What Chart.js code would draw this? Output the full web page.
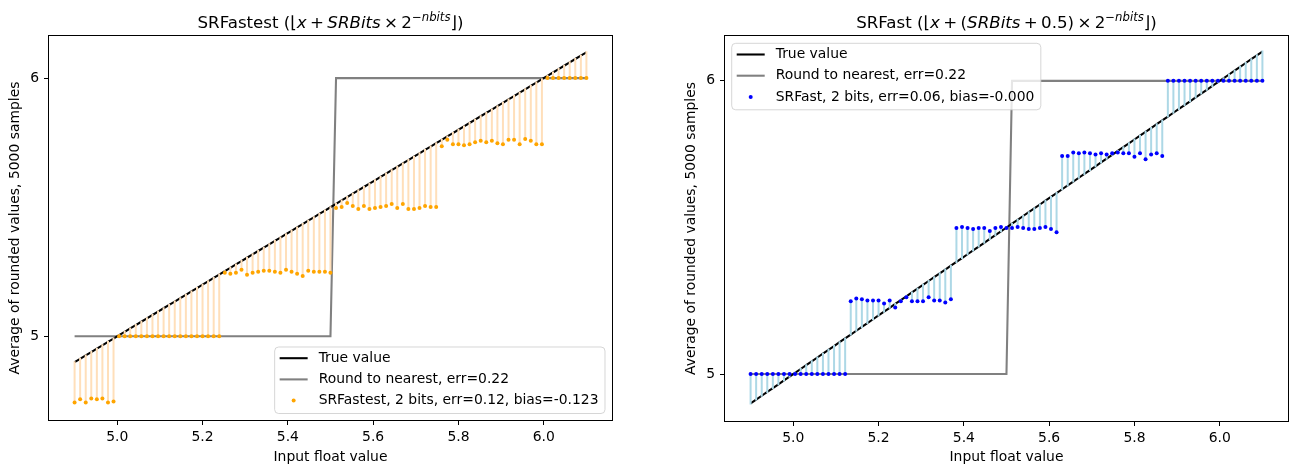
<!DOCTYPE html>
<html><head><meta charset="utf-8">
<script src="https://cdn.jsdelivr.net/npm/chart.js@4.4.1/dist/chart.umd.min.js"></script>
<style>
html,body{margin:0;padding:0;background:#fff;width:1298px;height:474px;overflow:hidden;}
#c1{position:absolute;left:0;top:0;}
#c2{position:absolute;left:676px;top:0;}
</style></head><body>
<canvas id="c1" width="649" height="474"></canvas>
<canvas id="c2" width="622" height="474"></canvas>
<script>
// ---------- DATA ----------
const inputValues = [
 4.9000,4.9130,4.9261,4.9391,4.9522,4.9652,4.9783,4.9913,5.0043,5.0174,
 5.0304,5.0435,5.0565,5.0696,5.0826,5.0957,5.1087,5.1217,5.1348,5.1478,
 5.1609,5.1739,5.1870,5.2000,5.2130,5.2261,5.2391,5.2522,5.2652,5.2783,
 5.2913,5.3043,5.3174,5.3304,5.3435,5.3565,5.3696,5.3826,5.3957,5.4087,
 5.4217,5.4348,5.4478,5.4609,5.4739,5.4870,5.4999,5.5130,5.5261,5.5391,
 5.5522,5.5652,5.5783,5.5913,5.6043,5.6174,5.6304,5.6435,5.6565,5.6696,
 5.6826,5.6957,5.7087,5.7217,5.7348,5.7478,5.7609,5.7739,5.7870,5.8000,
 5.8130,5.8261,5.8391,5.8522,5.8652,5.8783,5.8913,5.9043,5.9174,5.9304,
 5.9435,5.9565,5.9696,5.9826,5.9957,6.0087,6.0217,6.0348,6.0478,6.0609,
 6.0739,6.0870,6.1000];
const trueValues = inputValues;
const roundNearest = [
 5,5,5,5,5,5,5,5,5,5, 5,5,5,5,5,5,5,5,5,5, 5,5,5,5,5,5,5,5,5,5,
 5,5,5,5,5,5,5,5,5,5, 5,5,5,5,5,5,5,6,6,6, 6,6,6,6,6,6,6,6,6,6,
 6,6,6,6,6,6,6,6,6,6, 6,6,6,6,6,6,6,6,6,6, 6,6,6,6,6,6,6,6,6,6, 6,6,6];
const srFastest = [
 4.744,4.756,4.744,4.759,4.756,4.759,4.744,4.748,
 5,5,5,5,5,5,5,5,5,5,5,5,5,5,5,5,5,5,5,
 5.246,5.242,5.246,5.258,5.238,5.246,5.250,5.254,5.254,5.250,
 5.246,5.258,5.250,5.242,5.234,5.254,5.250,5.250,5.250,5.246,
 5.497,5.501,5.516,5.505,5.493,5.505,5.493,5.497,5.501,5.505,
 5.512,5.497,5.512,5.493,5.493,5.497,5.505,5.501,5.501,
 5.736,5.761,5.744,5.744,5.740,5.744,5.752,5.757,5.752,5.757,
 5.748,5.744,5.761,5.761,5.744,5.764,5.757,5.744,5.744,
 6,6,6,6,6,6,6,6];
const srFast = [
 5,5,5,5,5,5,5,5,5,5,5,5,5,5,5,5,5,5,
 5.248,5.258,5.255,5.251,5.251,5.251,5.241,5.251,5.227,5.248,
 5.262,5.248,5.248,5.248,5.262,5.251,5.251,5.244,5.255,
 5.498,5.502,5.498,5.495,5.498,5.498,5.488,5.498,5.502,5.498,
 5.498,5.502,5.498,5.495,5.495,5.498,5.502,5.495,5.484,
 5.744,5.744,5.756,5.753,5.756,5.753,5.749,5.753,5.749,5.753,
 5.756,5.753,5.753,5.741,5.753,5.733,5.749,5.753,5.744,
 6,6,6,6,6,6,6,6,6,6,6,6,6,6,6,6,6,6];
const xTickValues = [5.0, 5.2, 5.4, 5.6, 5.8, 6.0];
const xTickLabels = ['5.0', '5.2', '5.4', '5.6', '5.8', '6.0'];
const yTickValues = [5, 6];
const yTickLabels = ['5', '6'];
const legendLeft = ['True value', 'Round to nearest, err=0.22', 'SRFastest, 2 bits, err=0.12, bias=-0.123'];
const legendRight = ['True value', 'Round to nearest, err=0.22', 'SRFast, 2 bits, err=0.06, bias=-0.000'];
const xLabel = 'Input float value';
const yLabel = 'Average of rounded values, 5000 samples';

// ---------- HELPERS ----------
Chart.defaults.font.family = "'DejaVu Sans'";
const FS = 13.9;
const LW = 2.08;
function pts(xs, ys) { return xs.map((x, i) => ({x: x, y: ys[i]})); }
function stemPts(xs, ys, ts) {
  const out = [];
  xs.forEach((x, i) => { out.push({x: x, y: ys[i]}, {x: x, y: ts[i]}, {x: x, y: null}); });
  return out;
}

function drawRich(ctx, segs, cx, baseline) {
  const base = 16.67, small = 11.7, rise = 6.6;
  const fontOf = s => (s.i ? 'italic ' : '') + (s.sup ? small : base) + "px 'DejaVu Sans'";
  let total = 0;
  const items = segs.map(s => {
    ctx.font = fontOf(s);
    const pad = s.op ? base * 0.2 : 0;
    const w = ctx.measureText(s.t).width + 2 * pad;
    total += w;
    return {s, w, pad};
  });
  let x = cx - total / 2;
  ctx.fillStyle = '#000';
  ctx.textBaseline = 'alphabetic';
  ctx.textAlign = 'left';
  items.forEach(({s, w, pad}) => {
    ctx.font = fontOf(s);
    ctx.fillText(s.t, x + pad, baseline - (s.sup ? rise : 0));
    x += w;
  });
}

function roundRect(ctx, x, y, w, h, r) {
  ctx.beginPath();
  ctx.moveTo(x + r, y);
  ctx.lineTo(x + w - r, y); ctx.quadraticCurveTo(x + w, y, x + w, y + r);
  ctx.lineTo(x + w, y + h - r); ctx.quadraticCurveTo(x + w, y + h, x + w - r, y + h);
  ctx.lineTo(x + r, y + h); ctx.quadraticCurveTo(x, y + h, x, y + h - r);
  ctx.lineTo(x, y + r); ctx.quadraticCurveTo(x, y, x + r, y);
  ctx.closePath();
}

const decor = {
  id: 'decor',
  afterDatasetsDraw(chart, args, opts) {
    const ctx = chart.ctx, ca = chart.chartArea;
    ctx.save();
    // frame
    ctx.strokeStyle = '#000';
    ctx.lineWidth = 1;
    ctx.strokeRect(Math.round(ca.left) - 0.5, Math.round(ca.top) - 0.5,
                   Math.round(ca.right - ca.left) + 1, Math.round(ca.bottom - ca.top) + 1);
    // title
    drawRich(ctx, opts.title, (ca.left + ca.right) / 2, 28);
    // legend
    ctx.font = FS + "px 'DejaVu Sans'";
    const tw = Math.max(...opts.legend.map(e => ctx.measureText(e.label).width));
    const w = 5 + 28 + 11 + tw + 6.5, h = 66.5;
    let bx, by;
    if (opts.loc === 'lower right') { bx = ca.right - 7 - w; by = ca.bottom - 6.5 - h; }
    else { bx = ca.left + 6.7; by = ca.top + 7.3; }
    roundRect(ctx, bx, by, w, h, 4);
    ctx.fillStyle = 'rgba(255,255,255,0.8)';
    ctx.fill();
    ctx.strokeStyle = 'rgba(204,204,204,0.8)';
    ctx.lineWidth = 1;
    ctx.stroke();
    opts.legend.forEach((e, i) => {
      const cy = by + 11.2 + i * 21.2;
      const hx = bx + 5;
      if (e.kind === 'line') {
        ctx.strokeStyle = e.color; ctx.lineWidth = LW;
        ctx.beginPath(); ctx.moveTo(hx, cy); ctx.lineTo(hx + 28, cy); ctx.stroke();
      } else {
        ctx.fillStyle = e.color;
        ctx.beginPath(); ctx.arc(hx + 14, cy, 2, 0, Math.PI * 2); ctx.fill();
      }
      ctx.fillStyle = '#000';
      ctx.font = FS + "px 'DejaVu Sans'";
      ctx.textBaseline = 'middle';
      ctx.textAlign = 'left';
      ctx.fillText(e.label, hx + 28 + 11, cy);
    });
    ctx.restore();
  }
};

function makeChart(canvasId, cfg) {
  return new Chart(document.getElementById(canvasId), {
    type: 'scatter',
    data: {
      datasets: [
        {label: cfg.srLabel, data: pts(inputValues, cfg.sr), backgroundColor: cfg.dotColor,
         borderWidth: 0, pointRadius: 2, order: 0},
        {label: 'stems', data: stemPts(inputValues, cfg.sr, trueValues), showLine: true, spanGaps: false,
         borderColor: cfg.stemColor, borderWidth: 2, borderCapStyle: 'square', pointRadius: 0, order: 1},
        {label: 'True value', data: pts(inputValues, trueValues), showLine: true,
         borderColor: '#000', borderWidth: LW, pointRadius: 0, order: 2},
        {label: 'Round to nearest', data: pts(inputValues, roundNearest), showLine: true,
         borderColor: '#808080', borderWidth: LW, pointRadius: 0, order: 3}
      ]
    },
    options: {
      responsive: false, animation: false, events: [],
      layout: {padding: {left: 0, top: 36, right: cfg.padRight, bottom: 0}},
      plugins: {
        legend: {display: false}, tooltip: {enabled: false}, title: {display: false},
        decor: {title: cfg.title, legend: cfg.legend, loc: cfg.loc}
      },
      scales: {
        x: {
          type: 'linear', min: 4.84, max: 6.16, bounds: 'data',
          afterBuildTicks: s => { s.ticks = xTickValues.map(v => ({value: v})); },
          afterFit: s => { s.height = cfg.xAxisH; },
          ticks: {callback: (v, i) => xTickLabels[i], color: '#000', font: {size: FS}, padding: 4,
                  maxRotation: 0, autoSkip: false},
          grid: {display: true, drawOnChartArea: false, drawTicks: true, tickLength: 5,
                 tickColor: '#000', tickWidth: 1},
          border: {display: false},
          title: {display: true, text: xLabel, color: '#000', font: {size: FS}, padding: {top: 0, bottom: 8}}
        },
        y: {
          type: 'linear', min: cfg.yMin, max: cfg.yMax, bounds: 'data',
          afterBuildTicks: s => { s.ticks = yTickValues.map(v => ({value: v})); },
          afterFit: s => { s.width = 49; },
          ticks: {callback: (v, i) => yTickLabels[i], color: '#000', font: {size: FS}, padding: 5},
          grid: {display: true, drawOnChartArea: false, drawTicks: true, tickLength: 5,
                 tickColor: '#000', tickWidth: 1},
          border: {display: false},
          title: {display: true, text: yLabel, color: '#000', font: {size: FS}, padding: {top: 7, bottom: 0}}
        }
      }
    },
    plugins: [decor]
  });
}

makeChart('c1', {
  sr: srFastest, srLabel: legendLeft[2], dotColor: '#FFA500', stemColor: '#FFDFBA',
  padRight: 37, xAxisH: 54, yMin: 4.676, yMax: 6.163, loc: 'lower right',
  title: [
    {t: 'SRFastest ('}, {t: '\u230A'}, {t: 'x', i: true}, {t: '+', op: true},
    {t: 'SRBits', i: true}, {t: '\u00D7', op: true}, {t: '2'},
    {t: '\u2212', sup: true}, {t: 'nbits', i: true, sup: true}, {t: '\u230B'}, {t: ')'}
  ],
  legend: [
    {label: legendLeft[0], kind: 'line', color: '#000'},
    {label: legendLeft[1], kind: 'line', color: '#808080'},
    {label: legendLeft[2], kind: 'dot', color: '#FFA500'}
  ]
});

makeChart('c2', {
  sr: srFast, srLabel: legendRight[2], dotColor: '#0000FF', stemColor: '#ADD8E6',
  padRight: 10, xAxisH: 53, yMin: 4.84, yMax: 6.153, loc: 'upper left',
  title: [
    {t: 'SRFast ('}, {t: '\u230A'}, {t: 'x', i: true}, {t: '+', op: true}, {t: '('},
    {t: 'SRBits', i: true}, {t: '+', op: true}, {t: '0.5'}, {t: ')'}, {t: '\u00D7', op: true}, {t: '2'},
    {t: '\u2212', sup: true}, {t: 'nbits', i: true, sup: true}, {t: '\u230B'}, {t: ')'}
  ],
  legend: [
    {label: legendRight[0], kind: 'line', color: '#000'},
    {label: legendRight[1], kind: 'line', color: '#808080'},
    {label: legendRight[2], kind: 'dot', color: '#0000FF'}
  ]
});
</script>
</body></html>
